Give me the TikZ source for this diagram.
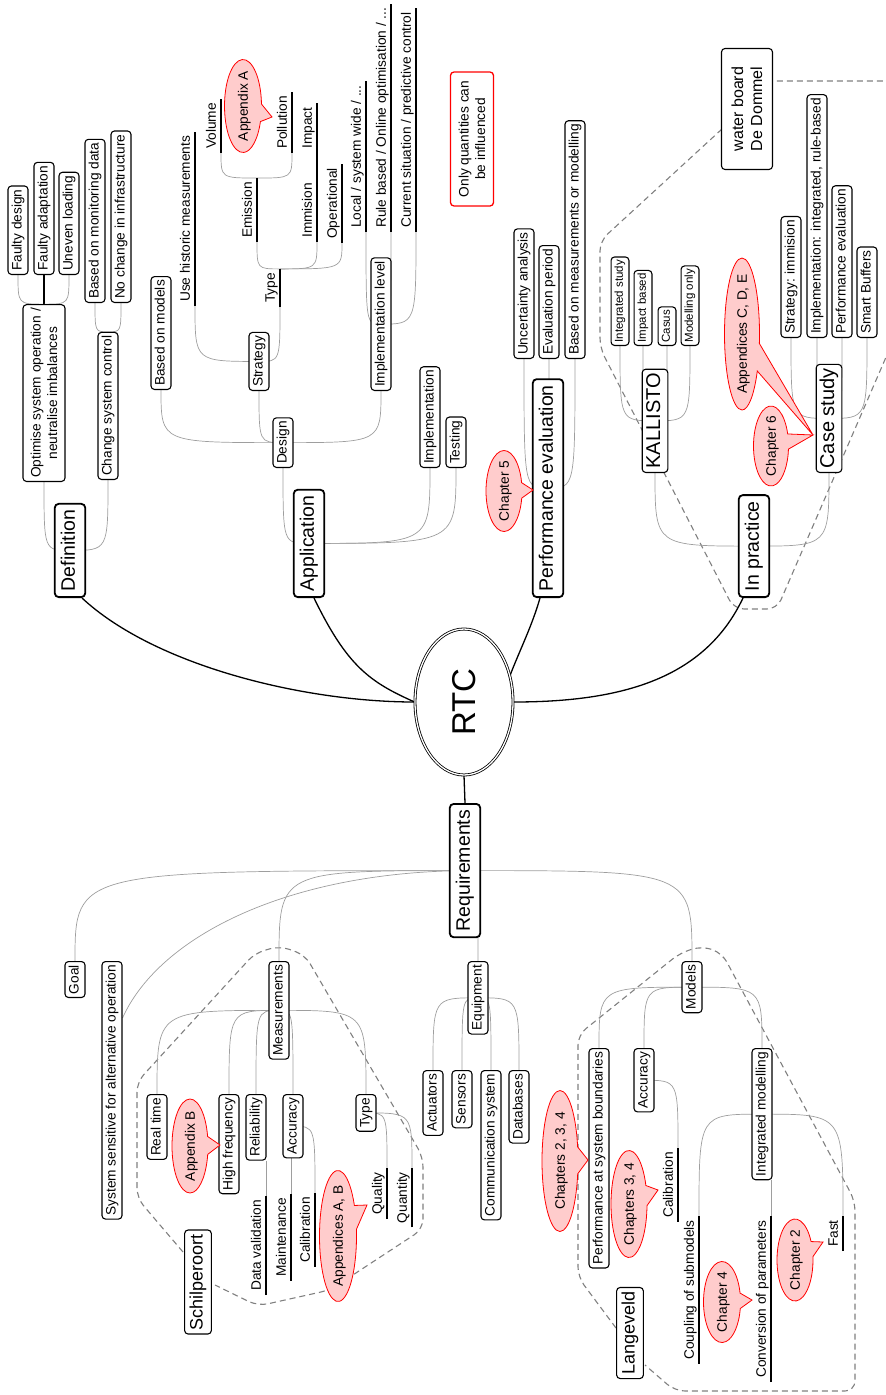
\documentclass[tikz,border=0pt]{standalone}
\usepackage{fontspec}
\setmainfont{Liberation Sans}
\usepackage{graphicx}
\usetikzlibrary{shapes.callouts,shapes.geometric,backgrounds,calc}

\newcommand{\vtext}[1]{\rotatebox{90}{\raisebox{-0.36em}[0pt][0pt]{\makebox[0pt]{#1}}}}
\newcommand{\mlink}[2]{\draw[link] (#1) .. controls (#1 -| #2) .. (#2);}

\tikzset{
  box/.style={draw, fill=white, rounded corners=3.5pt, rotate=90, line width=1.1pt,
    font=\fontsize{13.7}{16.5}\selectfont, inner xsep=3.5pt, inner ysep=3.5pt, align=center},
  sub/.style={box, text height=10pt, text depth=3pt},
  kidbox/.style={sub, font=\fontsize{11.5}{14}\selectfont, inner xsep=3pt, inner ysep=3.5pt, text height=8.4pt, text depth=2.5pt},
  bigsub/.style={sub, font=\fontsize{20}{24}\selectfont, inner xsep=4pt, inner ysep=3.3pt, text height=14.6pt, text depth=4.4pt},
  owner/.style={sub, font=\fontsize{18}{22}\selectfont, inner xsep=4pt, inner ysep=4.8pt, text height=13.1pt, text depth=4pt},
  topic/.style={sub, rounded corners=4pt, line width=1.8pt, font=\fontsize{19.5}{23}\selectfont, inner xsep=6pt, inner ysep=6pt, text height=14.2pt, text depth=4.3pt},
  leaf/.style={rotate=90, font=\fontsize{13.7}{16.5}\selectfont, inner xsep=4pt, inner ysep=2pt, text height=10pt, text depth=3pt},
  uline/.style={line width=1.3pt},
  link/.style={draw=black!38, line width=0.7pt},
  mainlink/.style={line width=1.3pt},
  grouparea/.style={draw=black!50, dash pattern=on 6pt off 4pt, line width=1.1pt, rounded corners=10pt},
  note/.style={ellipse callout, draw=red, fill=red!20, line width=0.8pt, inner sep=0pt, callout pointer arc=22, font=\fontsize{13.7}{16.5}\selectfont},
}

\begin{document}
\begin{tikzpicture}[x=1pt,y=1pt]
\useasboundingbox (0,0) rectangle (886,-1395);

% root
\node[ellipse, draw, double, double distance=1.3pt, line width=0.8pt, fill=white, minimum width=98pt, minimum height=146pt, inner sep=0pt, font=\fontsize{33}{40}\selectfont] (rtc) at (464,-702) {\rotatebox{90}{RTC}};

% Definition
\node[topic, anchor=west] (def) at (70,-598) {Definition};
\node[box, anchor=west, minimum height=42pt] (opt) at (44,-482) {Optimise system operation /\\neutralise imbalances};
\node[sub, anchor=west] (fdes) at (18,-275) {Faulty design};
\node[sub, anchor=west] (fada) at (44,-275) {Faulty adaptation};
\node[sub, anchor=west] (uneven) at (69,-275) {Uneven loading};
\node[sub, anchor=west] (chg) at (108,-480) {Change system control};
\node[sub, anchor=west] (monit) at (95,-303) {Based on monitoring data};
\node[sub, anchor=west] (noch) at (121,-303) {No change in infrastructure};

% Application
\node[topic, anchor=west] (app) at (309,-598) {Application};
\node[sub, anchor=west] (design) at (283,-468) {Design};
\node[sub, anchor=west] (impl) at (430,-468) {Implementation};
\node[sub, anchor=west] (test) at (456,-468) {Testing};
\node[sub, anchor=west] (models1) at (161,-390) {Based on models};
\node[sub, anchor=west] (strat) at (259,-391) {Strategy};
\node[sub, anchor=west] (impllev) at (381,-391) {Implementation level};
\node[leaf, anchor=south west] (hist) at (195,-306) {Use historic measurements};
\node[leaf, anchor=south west] (type) at (280,-307) {Type};
\node[leaf, anchor=south west] (emis) at (257,-242) {Emission};
\node[leaf, anchor=south west] (vol) at (221,-153) {Volume};
\node[leaf, anchor=south west] (poll) at (292,-153) {Pollution};
\node[leaf, anchor=south west] (immi) at (317,-242) {Immision};
\node[leaf, anchor=south west] (impact) at (317,-153) {Impact};
\node[leaf, anchor=south west] (oper) at (342,-243) {Operational};
\node[leaf, anchor=south west] (local) at (366,-232) {Local / system wide / ...};
\node[leaf, anchor=south west] (rule) at (391,-232) {Rule based / Online optimisation / ...};
\node[leaf, anchor=south west] (curr) at (416,-232) {Current situation / predictive control};

% Performance evaluation
\node[topic, anchor=west] (perf) at (548,-598) {Performance evaluation};
\node[sub, anchor=west] (unc) at (524,-359) {Uncertainty analysis};
\node[sub, anchor=west] (evalp) at (549,-359) {Evaluation period};
\node[sub, anchor=west] (basedm) at (575,-359) {Based on measurements or modelling};
\node[box, draw=red, line width=1.3pt, minimum width=134pt, minimum height=43pt] (only) at (472,-139) {Only quantities can\\be influenced};

% In practice
\node[topic, anchor=west] (prac) at (754,-598) {In practice};
\node[bigsub, anchor=west] (kal) at (655,-473) {KALLISTO};
\node[kidbox, anchor=west] (istudy) at (620,-346) {Integrated study};
\node[kidbox, anchor=west] (ibased) at (643,-346) {Impact based};
\node[kidbox, anchor=west] (casus) at (667,-346) {Casus};
\node[kidbox, anchor=west] (monly) at (690,-346) {Modelling only};
\node[bigsub, anchor=west] (case) at (829,-473) {Case study};
\node[sub, anchor=west] (sstrat) at (791,-338) {Strategy: immision};
\node[sub, anchor=west] (simpl) at (817,-338) {Implementation: integrated, rule-based};
\node[sub, anchor=west] (sperf) at (842,-338) {Performance evaluation};
\node[sub, anchor=west] (smart) at (867,-338) {Smart Buffers};
\node[box, font=\fontsize{16}{19}\selectfont, minimum width=121pt, minimum height=51pt] (wb) at (747,-109) {water board\\De Dommel};

% Requirements
\node[topic, anchor=east] (req) at (465,-803) {Requirements};
\node[sub, anchor=east] (goal) at (75,-961) {Goal};
\node[sub, anchor=east] (sens) at (112,-961) {System sensitive for alternative operation};
\node[sub, anchor=east] (meas) at (279,-961) {Measurements};
\node[sub, anchor=east] (equip) at (478,-961) {Equipment};
\node[sub, anchor=east] (models) at (692,-961) {Models};
\coordinate (sensp) at ($(sens.south east)!0.22!(sens.south west)$);

\node[sub, anchor=east] (rtime) at (157,-1094) {Real time};
\node[sub, anchor=east] (hfreq) at (229,-1094) {High frequency};
\node[sub, anchor=east] (relia) at (256,-1094) {Reliability};
\node[sub, anchor=east] (acc1) at (293,-1094) {Accuracy};
\node[sub, anchor=east] (mtype) at (366,-1094) {Type};
\node[leaf, anchor=south east] (dval) at (266,-1196) {Data validation};
\node[leaf, anchor=south east] (maint) at (291,-1194) {Maintenance};
\node[leaf, anchor=south east] (calib1) at (315,-1193) {Calibration};
\node[leaf, anchor=south east] (qual) at (387,-1168) {Quality};
\node[leaf, anchor=south east] (quant) at (412,-1168) {Quantity};
\node[owner] (schil) at (198,-1282) {Schilperoort};

\node[sub, anchor=east] (act) at (433,-1070) {Actuators};
\node[sub, anchor=east] (sensors) at (462,-1070) {Sensors};
\node[sub, anchor=east] (comm) at (491,-1070) {Communication system};
\node[sub, anchor=east] (db) at (519,-1070) {Databases};

\node[sub, anchor=east] (psb) at (599,-1048) {Performance at system boundaries};
\node[sub, anchor=east] (acc2) at (644,-1048) {Accuracy};
\node[sub, anchor=east] (intm) at (762,-1048) {Integrated modelling};
\node[leaf, anchor=south east] (calib2) at (678,-1148) {Calibration};
\node[leaf, anchor=south east] (coup) at (699,-1216) {Coupling of submodels};
\node[leaf, anchor=south east] (conv) at (771,-1216) {Conversion of parameters};
\node[leaf, anchor=south east] (fast) at (843,-1216) {Fast};
\node[owner] (lange) at (630,-1333) {Langeveld};

\foreach \n in {hist,type,emis,vol,poll,immi,impact,oper,local,rule,curr,dval,maint,calib1,qual,quant,calib2,coup,conv,fast}
  \draw[uline] (\n.south west) -- (\n.south east);

% callouts
\node[note, minimum width=37pt, minimum height=93pt, callout absolute pointer={(272,-117)}] (appA) at (243,-106) {\vtext{Appendix A}};
\node[note, minimum width=36pt, minimum height=81pt, callout absolute pointer={(533,-490)}] (ch5) at (504,-491) {\vtext{Chapter 5}};
\node[note, minimum width=35pt, minimum height=152pt, callout absolute pointer={(813,-435)}] (appCDE) at (742,-334) {\vtext{Appendices C, D, E}};
\node[note, minimum width=35pt, minimum height=80pt, callout absolute pointer={(813,-435)}] (ch6) at (771,-446) {\vtext{Chapter 6}};
\node[note, minimum width=36pt, minimum height=94pt, callout absolute pointer={(220,-1145)}] (appB) at (190,-1146) {\vtext{Appendix B}};
\node[note, minimum width=37pt, minimum height=131pt, callout absolute pointer={(367,-1205)}] (appAB) at (338,-1236) {\vtext{Appendices A, B}};
\node[note, minimum width=36pt, minimum height=141pt, callout absolute pointer={(588,-1160)}] (ch234) at (560,-1161) {\vtext{Chapters 2, 3, 4}};
\node[note, minimum width=36pt, minimum height=107pt, callout absolute pointer={(658,-1190)}] (ch34) at (629,-1204) {\vtext{Chapters 3, 4}};
\node[note, minimum width=37pt, minimum height=81pt, callout absolute pointer={(752,-1300)}] (ch4) at (722,-1302) {\vtext{Chapter 4}};
\node[note, minimum width=36pt, minimum height=82pt, callout absolute pointer={(823,-1242)}] (ch2) at (795,-1260) {\vtext{Chapter 2}};

\begin{pgfonlayer}{background}
  % groups
  \draw[grouparea] (722,-129) -- (600,-241) -- (600,-348) -- (734,-609) -- (777,-609) -- (893,-341) -- (893,-81) -- (773,-81);
  \draw[grouparea] (183,-1252) -- (137,-1198) -- (137,-1082) -- (255,-953) -- (280,-946) -- (305,-955) -- (423,-1157) -- (423,-1229) -- (330,-1290) -- (258,-1306) -- (215,-1285);
  \draw[grouparea] (616,-1328) -- (578,-1277) -- (578,-1035) -- (680,-953) -- (702,-946) -- (722,-953) -- (855,-1201) -- (855,-1391) -- (675,-1391) -- (645,-1365);

  % main branches
  \draw[mainlink] (rtc.west) .. controls +(-110,0) and +(73,-68) .. ([xshift=12pt]def.west);
  \draw[mainlink] (rtc.west) .. controls +(-45,20) and +(33,-68) .. ([xshift=5pt]app.west);
  \draw[mainlink] (rtc.30) .. controls +(10,26) and +(-8,-28) .. ([xshift=-8pt]perf.west);
  \draw[mainlink] (rtc.east) .. controls +(110,0) and +(-38,-80) .. ([xshift=-11pt]prac.west);
  \draw[mainlink] (rtc.south) -- (req.east);

  % definition
  \mlink{def.center}{opt.west}
  \mlink{def.center}{chg.west}
  \mlink{opt.east}{fdes.west}
  \draw[uline] (opt.east) -- (fada.west);
  \mlink{opt.east}{uneven.west}
  \mlink{chg.east}{monit.west}
  \mlink{chg.east}{noch.west}

  % application
  \mlink{app.center}{design.west}
  \mlink{app.center}{impl.west}
  \mlink{app.center}{test.west}
  \mlink{design.center}{models1.west}
  \mlink{design.center}{strat.west}
  \mlink{design.center}{impllev.west}
  \mlink{strat.center}{hist.south west}
  \mlink{strat.center}{type.south west}
  \mlink{type.south east}{emis.south west}
  \mlink{type.south east}{immi.south west}
  \mlink{type.south east}{oper.south west}
  \mlink{emis.south east}{vol.south west}
  \mlink{emis.south east}{poll.south west}
  \draw[uline] (immi.south east) -- (impact.south west);
  \mlink{impllev.center}{local.south west}
  \mlink{impllev.center}{rule.south west}
  \mlink{impllev.center}{curr.south west}

  % performance evaluation
  \mlink{perf.center}{unc.west}
  \mlink{perf.center}{evalp.west}
  \mlink{perf.center}{basedm.west}

  % in practice
  \mlink{prac.center}{kal.west}
  \mlink{prac.center}{case.west}
  \mlink{kal.center}{istudy.west}
  \mlink{kal.center}{ibased.west}
  \mlink{kal.center}{casus.west}
  \mlink{kal.center}{monly.west}
  \mlink{case.center}{sstrat.west}
  \mlink{case.center}{simpl.west}
  \mlink{case.center}{sperf.west}
  \mlink{case.center}{smart.west}

  % requirements
  \mlink{req.center}{goal.east}
  \draw[link] (req.center) .. controls (290,-872) and (160,-935) .. (sensp);
  \mlink{req.center}{meas.east}
  \mlink{req.center}{equip.east}
  \mlink{req.center}{models.east}
  \mlink{meas.center}{rtime.east}
  \mlink{meas.center}{hfreq.east}
  \mlink{meas.center}{relia.east}
  \mlink{meas.center}{acc1.east}
  \mlink{meas.center}{mtype.east}
  \draw[link] (relia.west -| dval.south east) -- (dval.south east);
  \draw[link] (acc1.west -| maint.south east) -- (maint.south east);
  \mlink{acc1.center}{calib1.south east}
  \mlink{mtype.center}{qual.south east}
  \mlink{mtype.center}{quant.south east}
  \mlink{equip.center}{act.east}
  \mlink{equip.center}{sensors.east}
  \mlink{equip.center}{comm.east}
  \mlink{equip.center}{db.east}
  \mlink{models.center}{psb.east}
  \mlink{models.center}{acc2.east}
  \mlink{models.center}{intm.east}
  \mlink{acc2.center}{calib2.south east}
  \mlink{intm.center}{coup.south east}
  \draw[link] (intm.west -| conv.south east) -- (conv.south east);
  \mlink{intm.center}{fast.south east}
\end{pgfonlayer}
\end{tikzpicture}
\end{document}
